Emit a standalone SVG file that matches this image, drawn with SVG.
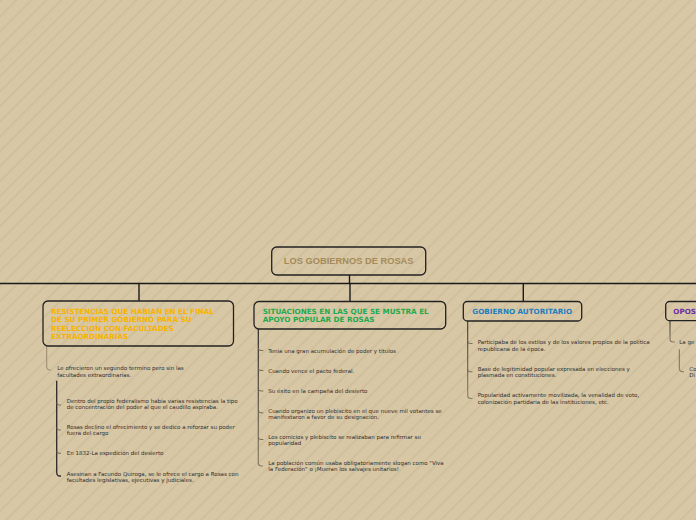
<svg xmlns="http://www.w3.org/2000/svg" width="696" height="520" viewBox="0 0 696 520">
  <defs>
    <pattern id="stripes" patternUnits="userSpaceOnUse" width="10.6" height="10.6" patternTransform="rotate(45)">
      <rect width="10.6" height="10.6" fill="#d8c7a5"/>
      <rect width="2" height="10.6" fill="#d0bf9c"/>
    </pattern>
    <linearGradient id="gMid" x1="0" y1="0" x2="0" y2="1">
      <stop offset="0" stop-color="#2a2a2a"/>
      <stop offset="1" stop-color="#8c7f68"/>
    </linearGradient>
    <linearGradient id="gRight" x1="0" y1="0" x2="0" y2="1">
      <stop offset="0" stop-color="#3a3530"/>
      <stop offset="1" stop-color="#8c7f68"/>
    </linearGradient>
  </defs>
  <style>
    .node { fill: url(#stripes); stroke: #222; stroke-width: 1.3; }
    .title { font-family: "DejaVu Sans", Verdana, sans-serif; font-weight: bold; font-size: 7.2px; }
    .child { font-family: "DejaVu Sans", Verdana, sans-serif; font-size: 5.5px; fill: #2e2e2e; }
    .conn { fill: none; stroke: #1a1a1a; stroke-width: 1.4; }
    .lt { fill: none; stroke: #9a8b6f; stroke-width: 1; }
    .dk { fill: none; stroke: #2a2a2a; stroke-width: 1.3; }
    .md { fill: none; stroke: url(#gMid); stroke-width: 1.2; }
    .rt { fill: none; stroke: url(#gRight); stroke-width: 1.1; }
    .tk { fill: none; stroke: #6f6452; stroke-width: 0.9; }
  </style>
  <rect width="696" height="520" fill="url(#stripes)"/>

  <g id="connectors">
    <path class="conn" d="M349.5 275 V283.5" stroke-width="2.2"/>
    <path class="conn" d="M-5 283.5 H701"/>
    <path class="conn" d="M139 283.5 V301"/>
    <path class="conn" d="M350 283.5 V301.5"/>
    <path class="conn" d="M523.3 283.5 V301.5"/>
    <path class="lt" d="M46.7 346 V367 Q46.7 370 49.7 370 H51"/>
    <path class="dk" d="M56.7 380.7 V472.5 Q56.7 476 60 476 H61"/>
    <path class="tk" d="M56.7 402.5 Q56.7 405 59 405 H61"/>
    <path class="tk" d="M56.7 427.5 Q56.7 430 59 430 H61"/>
    <path class="tk" d="M56.7 451 Q56.7 453.3 59 453.3 H61"/>
    <path class="md" d="M258.3 329 V463 Q258.3 466 261.3 466 H263"/>
    <path class="tk" d="M258.3 348 Q258.3 350.5 261 350.5 H263.3"/>
    <path class="tk" d="M258.3 368 Q258.3 370.5 261 370.5 H263.3"/>
    <path class="tk" d="M258.3 388.5 Q258.3 391 261 391 H263.3"/>
    <path class="tk" d="M258.3 410.3 Q258.3 412.8 261 412.8 H263.3"/>
    <path class="tk" d="M258.3 437 Q258.3 439.5 261 439.5 H263.3"/>
    <path class="rt" d="M467.7 321 V395.5 Q467.7 398.5 470.7 398.5 H472.5"/>
    <path class="tk" d="M467.7 341 Q467.7 343.5 470.2 343.5 H472.5"/>
    <path class="tk" d="M467.7 369.3 Q467.7 371.8 470.2 371.8 H472.5"/>
    <path class="rt" d="M670 320.7 V339 Q670 342 673 342 H675"/>
    <path class="tk" d="M679.3 349.3 V368.7 Q679.3 371.7 682.3 371.7 H684"/>
  </g>

  <g id="root">
    <rect class="node" x="271.7" y="247" width="154" height="28" rx="5" stroke-width="1.5"/>
    <text x="348.7" y="264" text-anchor="middle" font-family="'Liberation Sans', Arial, sans-serif" font-weight="bold" font-size="9.3" fill="#a48b5b">LOS GOBIERNOS DE ROSAS</text>
  </g>

  <g id="node-resistencias">
    <rect class="node" x="43" y="301" width="190.5" height="45" rx="5"/>
    <text class="title" fill="#f6b400">
      <tspan x="51" y="314.3">RESISTENCIAS QUE HABIAN EN EL FINAL</tspan>
      <tspan x="51" y="322.4">DE SU PRIMER GOBIERNO PARA SU</tspan>
      <tspan x="51" y="330.6">REELECCION CON FACULTADES</tspan>
      <tspan x="51" y="338.7">EXTRAORDINARIAS</tspan>
    </text>
  </g>
  <g id="r1">
    <text class="child"><tspan x="57.3" y="370.3">Le ofrecieron un segundo termino pero sin las</tspan><tspan x="57.3" y="376.5">facultades extraordinarias.</tspan></text>
  </g>
  <g id="r1a">
    <text class="child"><tspan x="66.7" y="403">Dentro del propio federalismo había varias resistencias la tipo</tspan><tspan x="66.7" y="409.2">de concentración del poder al que el caudillo aspiraba.</tspan></text>
  </g>
  <g id="r1b">
    <text class="child"><tspan x="66.7" y="428.6">Rosas declino el ofrecimiento y se dedico a reforzar su poder</tspan><tspan x="66.7" y="434.9">fuera del cargo</tspan></text>
  </g>
  <g id="r1c">
    <text class="child" x="66.7" y="455.2">En 1832-La espedición del desierto</text>
  </g>
  <g id="r1d">
    <text class="child"><tspan x="66.7" y="475.9">Asesinan a Facundo Quiroga, se le ofrece el cargo a Rosas con</tspan><tspan x="66.7" y="482.1">facultades legislativas, ejecutivas y judiciales.</tspan></text>
  </g>

  <g id="node-situaciones">
    <rect class="node" x="254" y="301.5" width="191.7" height="27.5" rx="5"/>
    <text class="title" fill="#1faa4f">
      <tspan x="262.7" y="314.3">SITUACIONES EN LAS QUE SE MUSTRA EL</tspan>
      <tspan x="262.7" y="322">APOYO POPULAR DE ROSAS</tspan>
    </text>
  </g>
  <g id="s1"><text class="child" x="268.3" y="352.8">Tenia una gran acumulación de poder y titulos</text></g>
  <g id="s2"><text class="child" x="268.3" y="372.6">Cuando vence el pacto federal.</text></g>
  <g id="s3"><text class="child" x="268.3" y="392.6">Su éxito en la campaña del desierto</text></g>
  <g id="s4"><text class="child"><tspan x="268.3" y="412.9">Cuando organizo un plebiscito en el que nueve mil votantes se</tspan><tspan x="268.3" y="419">manifestaron a favor de su designación.</tspan></text></g>
  <g id="s5"><text class="child"><tspan x="268.3" y="439.2">Los comicios y plebiscito se realizaban para refirmar su</tspan><tspan x="268.3" y="445.4">popularidad</tspan></text></g>
  <g id="s6"><text class="child"><tspan x="268.3" y="464.8">La población común usaba obligatoriamente slogan como "Viva</tspan><tspan x="268.3" y="471.4">la Federación" o ¡Mueran los salvajes unitarios!</tspan></text></g>

  <g id="node-gobierno">
    <rect class="node" x="463.3" y="301.5" width="118.4" height="19.5" rx="4"/>
    <text class="title" fill="#1d7fc0" x="472.3" y="314.3">GOBIERNO AUTORITARIO</text>
  </g>
  <g id="g1"><text class="child"><tspan x="477.7" y="344.2">Participaba de los estilos y de los valores propios de la política</tspan><tspan x="477.7" y="350.7">republicana de la época.</tspan></text></g>
  <g id="g2"><text class="child"><tspan x="477.7" y="370.9">Base de legitimidad popular expresada  en elecciones y</tspan><tspan x="477.7" y="377.1">plasmada en constituciones.</tspan></text></g>
  <g id="g3"><text class="child"><tspan x="477.7" y="396.9">Popularidad activamente movilizada, la venalidad de voto,</tspan><tspan x="477.7" y="403.6">colonización partidaria de las instituciones, etc.</tspan></text></g>

  <g id="node-oposicion">
    <rect class="node" x="665.7" y="301.5" width="60" height="19.2" rx="4"/>
    <text class="title" fill="#6b2ea6" x="673.3" y="314.3">OPOS</text>
  </g>
  <g id="o1"><text class="child" x="679.3" y="344">La ge</text></g>
  <g id="o1a"><text class="child"><tspan x="689.3" y="371">Co</tspan><tspan x="689.3" y="377">Di</tspan></text></g>
</svg>
